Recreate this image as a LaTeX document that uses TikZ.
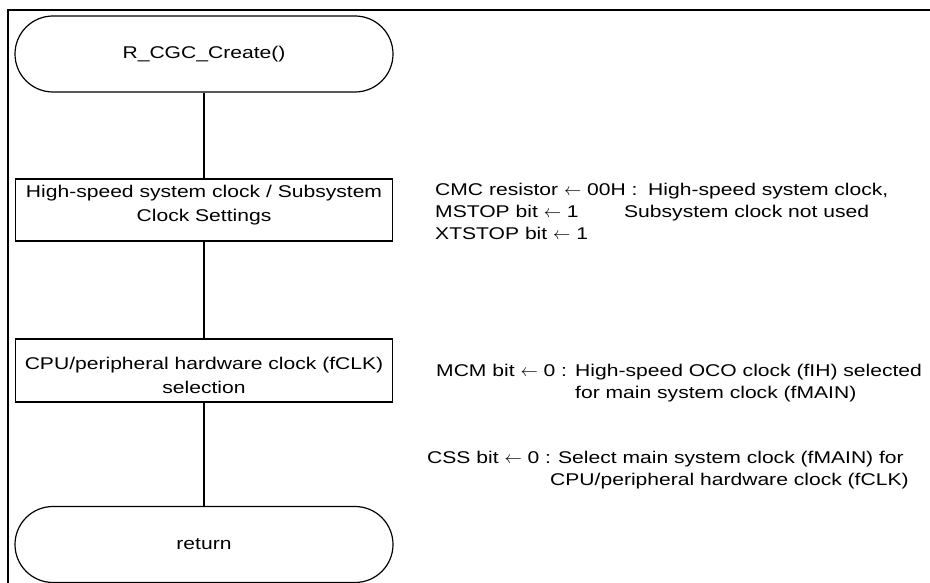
\documentclass[tikz,border=0pt]{standalone}
\usepackage{fontspec}
\setmainfont[FakeStretch=1.24]{Liberation Sans}
\newcommand{\notelines}[1]{\vtop{\baselineskip=22pt\lineskiplimit=-50pt\lineskip=0pt #1}}
\newcommand{\boxlines}[2]{\vtop{\baselineskip=24pt\lineskiplimit=-50pt\lineskip=0pt\halign{\hfil##\hfil\cr #1\cr #2\cr}}}
\begin{document}
\begin{tikzpicture}[x=1pt,y=-1pt,
  every node/.style={font=\fontsize{17}{22}\selectfont},
  term/.style={draw, line width=1.2pt, rounded corners=38pt, minimum width=378pt, minimum height=76pt, inner sep=0pt},
  proc/.style={draw, line width=1.2pt, minimum width=377pt, inner sep=0pt, text height=0pt},
  note/.style={anchor=base west, inner sep=0pt},
  conn/.style={line width=1.2pt},
  frame/.style={line width=2pt}]
\useasboundingbox (0,0) rectangle (930,583);
\draw[frame] (932,10) -- (8,10) -- (8,585);
\node[term] (start) at (204,54) {R\_CGC\_Create()};
\node[proc, minimum height=62pt, text depth=24pt] (clk) at (204,210)
  {\boxlines{High-speed system clock / Subsystem}{Clock Settings}};
\node[proc, minimum height=63pt, text depth=3pt] (fclk) at (204,370.5)
  {\boxlines{CPU/peripheral hardware clock (fCLK)}{selection}};
\node[term] (ret) at (204,544.5) {return};
\draw[conn] (start) -- (clk);
\draw[conn] (clk) -- (fclk);
\draw[conn] (fclk) -- (ret);
% notes
\node[note] (cmc) at (435,196) {\notelines{%
  \hbox{\makebox[213pt][l]{CMC resistor $\leftarrow$ 00H :}High-speed system clock,}
  \hbox{\makebox[189pt][l]{MSTOP bit $\leftarrow$ 1}Subsystem clock not used}
  \hbox{XTSTOP bit $\leftarrow$ 1}}};
\node[note] (mcm) at (436,376) {\notelines{%
  \hbox{\makebox[139pt][l]{MCM bit $\leftarrow$ 0 :}High-speed OCO clock (fIH) selected}
  \hbox{\hspace*{139pt}for main system clock (fMAIN)}}};
\node[note] (css) at (427,463) {\notelines{%
  \hbox{\makebox[131pt][l]{CSS bit $\leftarrow$ 0 :}Select main system clock (fMAIN) for}
  \hbox{\hspace*{123pt}CPU/peripheral hardware clock (fCLK)}}};
\end{tikzpicture}
\end{document}
